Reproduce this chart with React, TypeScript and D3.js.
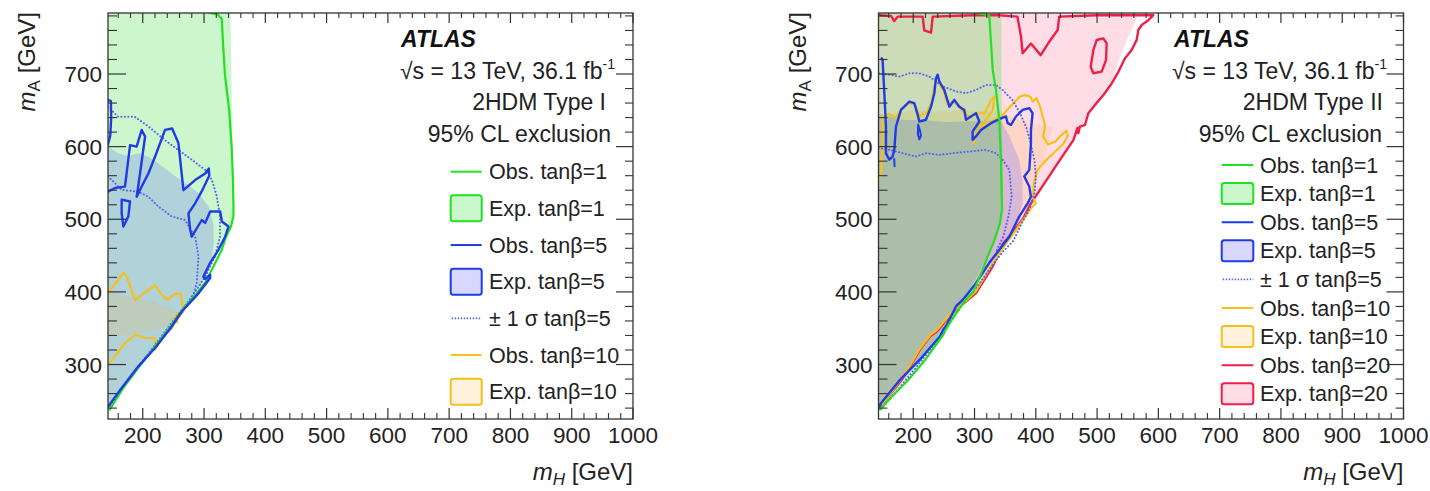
import React from 'react';
import * as d3 from 'd3';

type Pt = [number, number];

// ---------- axes ----------
const xDomain: Pt = [143.3, 1000];
const yDomain: Pt = [225, 784];
const xMajorTicks = [200, 300, 400, 500, 600, 700, 800, 900, 1000];
const yMajorTicks = [300, 400, 500, 600, 700];

// ---------- 2HDM Type I ----------
const t1ExpTb1: Pt[] = [
  [143.3, 784], [343, 784], [344, 740], [345, 680], [346, 620], [348, 560], [349, 510], [346, 493],
  [335, 478], [322, 456], [305, 426], [290, 405], [270, 382], [245, 354], [220, 326], [195, 299],
  [170, 271], [146, 241], [143.3, 237],
];
const t1ObsTb1: Pt[] = [
  [310, 784], [322, 782], [329, 776], [331, 742], [334, 700], [341, 651], [345, 600], [347, 559],
  [348, 520], [348, 504], [344, 490], [336, 476], [329, 458], [316, 436], [302, 413], [286, 396],
  [269, 380], [245, 352], [220, 325], [195, 298], [170, 270], [146, 238],
];
const t1ExpTb5: Pt[] = [
  [143.3, 600], [160, 591], [176, 587], [193, 591], [209, 586], [225, 577], [247, 563], [269, 550],
  [291, 536], [307, 518], [315, 495], [316, 467], [312, 440], [302, 418], [290, 404], [270, 380],
  [245, 352], [220, 324], [195, 297], [170, 269], [146, 240], [143.3, 237],
];
const t1ObsTb5Edge: Pt[] = [[143.3, 664], [148, 663], [148.5, 640], [147, 615], [143.3, 603]];
const t1ObsTb5Main: Pt[] = [
  [143.3, 538], [154.7, 543], [171, 545], [179.3, 602], [190, 600], [198.3, 623], [203.8, 614],
  [195.6, 563], [190.1, 531], [198.3, 545], [209.2, 563], [220, 586], [236.4, 623], [248, 625],
  [258.2, 605], [266.4, 540], [285.5, 554], [301.8, 563], [308, 570], [308.5, 560], [296, 538],
  [285.5, 522], [274.5, 508], [277.3, 486], [280, 476], [296.4, 499], [301.8, 495], [310, 510.7],
  [326.3, 510.7], [329.1, 497], [339.9, 490], [334.5, 476], [323.6, 458], [310, 440], [299, 421],
  [301.8, 417.6], [310, 423.6], [310, 419], [291, 398], [263.7, 373], [247.3, 352.5], [220, 322.7],
  [192.9, 297.5], [165.6, 267.7], [143.8, 242.5],
];
const t1ObsTb5Island: Pt[] = [[165.6, 527], [179.3, 524.5], [176.5, 504], [168.4, 490], [165.6, 508], [165.6, 527]];
const t1SigUpTb5: Pt[] = [
  [143.3, 655], [160, 641], [187, 641], [209, 628], [236, 609], [258, 595.5], [280, 582], [302, 568],
  [313, 554], [321, 531], [326, 504], [326, 476], [318, 449], [302, 421], [288, 403], [270, 382],
  [245, 355], [220, 327], [195, 300], [170, 272], [146, 242],
];
const t1SigDnTb5: Pt[] = [
  [143.3, 559], [165.6, 540.5], [192.9, 538], [209.2, 531], [225.5, 517.6], [247.3, 503.8],
  [269.1, 499], [285.5, 476], [291, 449], [288, 412], [280, 389], [272, 380],
];
const t1ObsTb10: Pt[] = [
  [143.3, 398.4], [168.4, 426], [173.8, 421], [187.4, 389], [220, 409], [232, 395], [240, 389],
  [252, 397], [262, 398], [266.4, 373], [255.5, 362], [247.3, 350], [231, 336.5], [220.1, 320.4],
  [220.1, 336.5], [203.8, 336.5], [187.4, 341], [171.1, 329.6], [143.8, 299.8],
];
const t1ObsTb10Spur: Pt[] = [[249, 362], [258, 364], [255, 371], [256, 358]];
const t1ExpTb10: Pt[] = [
  [143.3, 400], [180, 393], [215, 387], [245, 378], [262, 368], [250, 357], [225, 349], [195, 343],
  [165, 340], [143.3, 340],
];

// ---------- 2HDM Type II ----------
const t2ExpTb1: Pt[] = [
  [143.3, 784], [344, 784], [344, 700], [345, 620], [346, 560], [347, 515], [343, 494], [331, 468],
  [315, 440], [300, 415], [285, 395], [268, 372], [250, 350], [225, 322], [200, 296], [175, 270],
  [150, 243], [143.3, 236],
];
const t2ObsTb1: Pt[] = [
  [299.7, 784.4], [324, 781], [327, 742], [329.6, 706], [335, 678], [340.4, 637], [343.2, 582],
  [344.8, 513], [341.5, 495], [332, 470], [322, 450], [313, 430], [298, 400], [286, 390], [267, 367],
  [253, 348], [249, 341], [220, 307], [190, 277], [165, 256], [145.7, 238],
];
const t2ExpTb20: Pt[] = [
  [143.3, 784], [567, 784], [567, 781], [545, 740], [526.5, 696], [505, 668], [483, 641], [467, 618],
  [450, 595.5], [430, 572], [412, 550], [395, 525], [374, 495], [360, 478], [345, 460], [320, 430],
  [302, 404], [280, 385], [260, 362], [240, 338], [215, 312], [190, 285], [165, 259], [143.3, 238],
];
const t2ExpTb5: Pt[] = [
  [143.3, 646], [160, 642], [180, 637], [220, 636], [260, 634], [300, 635], [343, 636], [357, 614],
  [373, 582], [378.5, 550], [378.5, 522], [368, 495], [355, 475], [340, 455], [320, 430], [300, 406],
  [280, 386], [260, 360], [240, 335], [210, 302], [180, 272], [150, 243], [143.3, 237],
];
const t2ExpTb10: Pt[] = [
  [143.3, 640], [170, 645], [200, 650], [240, 648], [280, 650], [320, 649], [343, 648], [365, 640],
  [396, 632], [428, 627.6], [418, 595.5], [407, 568], [396, 531], [374, 504], [360, 482], [340, 456],
  [310, 420], [280, 388], [250, 352], [220, 318], [190, 287], [160, 255], [143.3, 238],
];
const t2ObsTb20: Pt[] = [
  [143.3, 781], [163.7, 780], [169, 773], [174.6, 779], [215.4, 779], [218, 760], [229, 757],
  [231.7, 779], [297, 781], [340, 781], [370, 779], [376, 751], [378.5, 728.5], [392, 742], [408, 726],
  [422, 744.5], [435.6, 760.6], [438.3, 779], [500, 781], [591.8, 781], [583.6, 774], [572.8, 767.5],
  [567.3, 760.6], [564.6, 747], [556.4, 733], [545.6, 721.6], [534.7, 703], [523.8, 687], [510.2, 671],
  [496.6, 657.5], [485.7, 646], [480.3, 630], [472, 627.6], [469.4, 618.5], [468, 626], [461.3, 609],
  [444.9, 588.6], [428.6, 568], [412.3, 547.4], [401.4, 533.6], [390.6, 520], [379.7, 501.5],
  [363.4, 483], [347, 467], [329.6, 435], [302.4, 398.4], [285, 386], [265.4, 373], [254.6, 361.7],
  [238.3, 345.6], [227.3, 338.8], [211, 320.5], [194.7, 297.5], [181.2, 279.2], [165, 262], [151, 247],
  [143.3, 240],
];
const t2ObsTb20Island: Pt[] = [
  [499.3, 746.8], [510.2, 749.1], [515.6, 742.3], [514.6, 719.3], [507.5, 703.3], [493.9, 701],
  [489.5, 710], [493.9, 733.1], [499.3, 746.8],
];
const t2ObsTb10: Pt[] = [
  [143.3, 556], [147.4, 563], [150, 600], [150, 641], [160, 645], [172, 640], [180, 652], [193, 660],
  [203, 657], [210, 642], [222, 647], [230, 662], [236, 690], [241, 688], [250, 676], [256, 658],
  [265, 663], [276, 654], [285, 645], [293, 641], [302, 646], [316, 646], [327, 664], [332, 669],
  [330, 651], [319, 637], [310, 630], [300, 628], [297, 617], [299, 605], [302, 618], [312, 627],
  [326, 634], [343, 641], [358, 655], [374, 669], [382, 671], [391, 669], [395, 662], [401, 667],
  [407, 655], [411, 642], [415, 630], [412, 614], [420, 603], [432, 607], [443, 617], [450, 622],
  [452, 615], [445, 604], [430, 592], [415, 580], [402, 567], [397, 550], [395, 530], [400, 522],
  [392, 515], [380, 500], [365, 482], [350, 465], [330, 440], [310, 412], [302, 401], [285, 387],
  [265, 374], [250, 359], [238, 347], [227, 340], [211, 322], [195, 299], [181, 281], [165, 263],
  [150, 246],
];
const t2ObsTb5: Pt[] = [
  [148.5, 721.7], [150, 719], [152.8, 674], [155.5, 628], [155.5, 591], [161, 582], [166.4, 586.4],
  [169.1, 595.6], [171.8, 627.7], [180, 650.6], [193.6, 662], [201.7, 660], [207.2, 644], [209.9, 634.6],
  [220.8, 637], [229, 655], [234.4, 673.6], [237.1, 694], [239.8, 699], [242.5, 690], [250.7, 678],
  [258.9, 655], [267, 664.4], [275.2, 655], [283.3, 650.6], [286.1, 637], [302.4, 646], [307.8, 634.6],
  [302.4, 627.7], [296.9, 621], [296.9, 609.4], [302.4, 614], [310.5, 623], [326.8, 632.3],
  [343.2, 639], [351.3, 641.5], [354.1, 632.3], [359.5, 630], [367.6, 641.5], [378.5, 650.6],
  [389.4, 653], [394.8, 646], [392.1, 623], [392.1, 605], [389.4, 568], [381.2, 559], [389.4, 545],
  [392.1, 531], [386.7, 522], [373.1, 504], [356.8, 476], [340.4, 458], [324.1, 440], [302.4, 412],
  [280.6, 389], [269.7, 380], [255, 355], [249, 348], [243.7, 339], [211, 307], [178.4, 279],
  [145.7, 245], [143.3, 242],
];
const t2ObsTb5Loop: Pt[] = [[208, 630], [211, 622], [212.5, 615], [210, 610], [207.5, 617], [208, 630]];
const t2ObsTb5Tick: Pt[] = [[169, 583], [169.5, 573]];
const t2SigUpTb5: Pt[] = [
  [143.6, 701], [161, 699], [177.3, 696.5], [193.6, 701], [209.9, 701], [226.2, 696.5], [248, 683],
  [269.7, 676], [286.1, 673.6], [302.4, 678], [318.7, 685], [335, 685], [345.9, 678], [362, 664],
  [375, 645], [385, 625], [393, 600], [398, 580], [400, 558], [398, 536], [390, 515], [378, 496],
  [363, 470], [345.9, 455], [325, 432], [305, 408], [285, 388], [265, 364], [245, 340], [220, 312],
  [195, 286], [170, 260], [147, 238],
];
const t2SigDnTb5: Pt[] = [
  [143.3, 598], [161, 595.6], [182.7, 591], [204.5, 586.4], [220.8, 591], [242.5, 588.7], [264.3, 591],
  [291.5, 593.3], [318.7, 595.6], [335, 591], [345.9, 582], [356.8, 568], [360.6, 531], [355.2, 504],
  [347, 476], [335, 455],
];

// ---------- styling ----------
const FONT = "'Liberation Sans', Arial, Helvetica, sans-serif";
const COL = {
  green: '#22e022',
  blue: '#1e3ce6',
  dotted: '#4f63f2',
  yellow: '#f6c01c',
  red: '#ef1f48',
};
const FILL = {
  green: 'rgba(0,215,0,0.2)',
  blue: 'rgba(100,100,255,0.25)',
  yellow: 'rgba(255,175,40,0.16)',
  red: 'rgba(255,30,90,0.15)',
};

const Y0 = 13;
const Y1 = 419;

type Shape =
  | { kind: 'fill'; data: Pt[]; fill: string }
  | { kind: 'line'; data: Pt[]; stroke: string; width?: number; dotted?: boolean };

type LegendRow = { kind: 'line' | 'box' | 'dots'; color: string; fill?: string; label: string };

type PanelProps = {
  id: string;
  x0: number;
  x1: number;
  shapes: Shape[];
  header: { atlasX: number; sqrtX: number; typeEnd: number; clEnd: number; typeLabel: string };
  legend: { y0: number; dy: number; symX: number; symW: number; boxH: number; textX: number; rows: LegendRow[] };
};

function Panel({ id, x0, x1, shapes, header, legend }: PanelProps) {
  const x = d3.scaleLinear().domain(xDomain).range([x0, x1]);
  const y = d3.scaleLinear().domain(yDomain).range([Y1, Y0]);
  const line = d3.line<Pt>().x((d) => x(d[0])).y((d) => y(d[1]));
  const xMinor = d3.range(160, 1001, 20).filter((v) => v % 100 !== 0);
  const yMinor = d3.range(240, 781, 20).filter((v) => v % 100 !== 0);
  const tick = '#333';

  return (
    <g fontFamily={FONT}>
      <defs>
        <clipPath id={id}>
          <rect x={x0} y={Y0} width={x1 - x0} height={Y1 - Y0} />
        </clipPath>
      </defs>
      <g clipPath={`url(#${id})`}>
        {shapes.filter((s) => s.kind === 'fill').map((s, i) => (
          <path key={'f' + i} d={line(s.data) + 'Z'} fill={(s as any).fill} stroke="none" />
        ))}
        {shapes.filter((s) => s.kind === 'line').map((s: any, i) => (
          <path
            key={'l' + i}
            d={line(s.data) || ''}
            fill="none"
            stroke={s.stroke}
            strokeWidth={s.width ?? 2.4}
            strokeLinejoin="round"
            strokeLinecap="round"
            strokeDasharray={s.dotted ? '0.1 3.4' : undefined}
          />
        ))}
      </g>

      {/* frame */}
      <rect x={x0} y={Y0} width={x1 - x0} height={Y1 - Y0} fill="none" stroke="#333" strokeWidth={1.3} />

      {/* x ticks, bottom and top */}
      {xMajorTicks.map((v) => (
        <g key={'xm' + v}>
          <line x1={x(v)} x2={x(v)} y1={Y1} y2={Y1 - 11} stroke={tick} strokeWidth={1.2} />
          <line x1={x(v)} x2={x(v)} y1={Y0} y2={Y0 + 10} stroke={tick} strokeWidth={1.2} />
          <text x={x(v)} y={442.5} textAnchor="middle" fontSize={22.5} fill="#222">{v}</text>
        </g>
      ))}
      {xMinor.map((v) => (
        <g key={'xn' + v}>
          <line x1={x(v)} x2={x(v)} y1={Y1} y2={Y1 - 6} stroke={tick} strokeWidth={1.1} />
          <line x1={x(v)} x2={x(v)} y1={Y0} y2={Y0 + 5} stroke={tick} strokeWidth={1.1} />
        </g>
      ))}

      {/* y ticks, left and right */}
      {yMajorTicks.map((v) => (
        <g key={'ym' + v}>
          <line x1={x0} x2={x0 + 18} y1={y(v)} y2={y(v)} stroke={tick} strokeWidth={1.2} />
          <line x1={x1} x2={x1 - 17} y1={y(v)} y2={y(v)} stroke={tick} strokeWidth={1.2} />
          <text x={x0 - 6} y={y(v) + 8} textAnchor="end" fontSize={22.5} fill="#222">{v}</text>
        </g>
      ))}
      {yMinor.map((v) => (
        <g key={'yn' + v}>
          <line x1={x0} x2={x0 + 9} y1={y(v)} y2={y(v)} stroke={tick} strokeWidth={1.1} />
          <line x1={x1} x2={x1 - 8} y1={y(v)} y2={y(v)} stroke={tick} strokeWidth={1.1} />
        </g>
      ))}

      {/* axis titles */}
      <text x={x1} y={480} textAnchor="end" fontSize={24} fill="#222">
        <tspan fontStyle="italic">m</tspan>
        <tspan fontStyle="italic" fontSize={17} dy={5}>H</tspan>
        <tspan dy={-5}> [GeV]</tspan>
      </text>
      <text transform={`translate(${x0 - 73},12) rotate(-90)`} textAnchor="end" fontSize={24} fill="#222">
        <tspan fontStyle="italic">m</tspan>
        <tspan fontSize={17} dy={5}>A</tspan>
        <tspan dy={-5}> [GeV]</tspan>
      </text>

      {/* header */}
      <text x={header.atlasX} y={47} fontSize={23} fontWeight="bold" fontStyle="italic" fill="#111">ATLAS</text>
      <text x={header.sqrtX} y={79} fontSize={23} fill="#222">
        √s = 13 TeV, 36.1 fb<tspan fontSize={14} dy={-10}>-1</tspan>
      </text>
      <text x={header.typeEnd} y={110} textAnchor="end" fontSize={23} fill="#222">{header.typeLabel}</text>
      <text x={header.clEnd} y={141.7} textAnchor="end" fontSize={23} fill="#222">95% CL exclusion</text>

      {/* legend */}
      {legend.rows.map((r, i) => {
        const cy = legend.y0 + i * legend.dy;
        return (
          <g key={'lg' + i}>
            {r.kind === 'line' && (
              <line x1={legend.symX} x2={legend.symX + legend.symW} y1={cy} y2={cy} stroke={r.color} strokeWidth={2} />
            )}
            {r.kind === 'dots' && (
              <line
                x1={legend.symX + 1}
                x2={legend.symX + legend.symW}
                y1={cy}
                y2={cy}
                stroke={r.color}
                strokeWidth={1.6}
                strokeDasharray="1.4 1.6"
              />
            )}
            {r.kind === 'box' && (
              <rect
                x={legend.symX}
                y={cy - legend.boxH / 2}
                width={legend.symW}
                height={legend.boxH}
                rx={2.5}
                fill={r.fill}
                stroke={r.color}
                strokeWidth={2}
              />
            )}
            <text x={legend.textX} y={cy + 7.6} fontSize={21.5} fill="#222">{r.label}</text>
          </g>
        );
      })}
    </g>
  );
}

const legendType1: LegendRow[] = [
  { kind: 'line', color: COL.green, label: 'Obs. tanβ=1' },
  { kind: 'box', color: COL.green, fill: FILL.green, label: 'Exp. tanβ=1' },
  { kind: 'line', color: COL.blue, label: 'Obs. tanβ=5' },
  { kind: 'box', color: COL.blue, fill: FILL.blue, label: 'Exp. tanβ=5' },
  { kind: 'dots', color: COL.dotted, label: '± 1 σ tanβ=5' },
  { kind: 'line', color: COL.yellow, label: 'Obs. tanβ=10' },
  { kind: 'box', color: COL.yellow, fill: FILL.yellow, label: 'Exp. tanβ=10' },
];
const legendType2: LegendRow[] = [
  ...legendType1,
  { kind: 'line', color: COL.red, label: 'Obs. tanβ=20' },
  { kind: 'box', color: COL.red, fill: FILL.red, label: 'Exp. tanβ=20' },
];

const shapesType1: Shape[] = [
  { kind: 'fill', data: t1ExpTb1, fill: FILL.green },
  { kind: 'fill', data: t1ExpTb5, fill: FILL.blue },
  { kind: 'fill', data: t1ExpTb10, fill: FILL.yellow },
  { kind: 'line', data: t1ObsTb10, stroke: COL.yellow, width: 2.2 },
  { kind: 'line', data: t1ObsTb10Spur, stroke: COL.yellow, width: 2.2 },
  { kind: 'line', data: t1SigUpTb5, stroke: COL.dotted, width: 2, dotted: true },
  { kind: 'line', data: t1SigDnTb5, stroke: COL.dotted, width: 2, dotted: true },
  { kind: 'line', data: t1ObsTb1, stroke: COL.green, width: 2.2 },
  { kind: 'line', data: t1ObsTb5Edge, stroke: COL.blue },
  { kind: 'line', data: t1ObsTb5Main, stroke: COL.blue },
  { kind: 'line', data: t1ObsTb5Island, stroke: COL.blue },
];

// Type II fills: green is laid last so the overlap keeps a green tint
const shapesType2: Shape[] = [
  { kind: 'fill', data: t2ExpTb20, fill: FILL.red },
  { kind: 'fill', data: t2ExpTb10, fill: FILL.yellow },
  { kind: 'fill', data: t2ExpTb5, fill: FILL.blue },
  { kind: 'fill', data: t2ExpTb1, fill: FILL.green },
  { kind: 'line', data: t2ObsTb20, stroke: COL.red },
  { kind: 'line', data: t2ObsTb20Island, stroke: COL.red },
  { kind: 'line', data: t2ObsTb10, stroke: COL.yellow, width: 2.2 },
  { kind: 'line', data: t2SigUpTb5, stroke: COL.dotted, width: 2, dotted: true },
  { kind: 'line', data: t2SigDnTb5, stroke: COL.dotted, width: 2, dotted: true },
  { kind: 'line', data: t2ObsTb5, stroke: COL.blue },
  { kind: 'line', data: t2ObsTb5Loop, stroke: COL.blue, width: 2 },
  { kind: 'line', data: t2ObsTb5Tick, stroke: COL.blue, width: 2 },
  { kind: 'line', data: t2ObsTb1, stroke: COL.green, width: 2.2 },
];

export default function App() {
  return (
    <svg
      width={1430}
      height={491}
      viewBox="0 0 1430 491"
      style={{ position: 'absolute', left: 0, top: 0, background: '#fff' }}
    >
      <rect width={1430} height={491} fill="#fff" />
      <Panel
        id="clip-type1"
        x0={108}
        x1={633}
        shapes={shapesType1}
        header={{ atlasX: 401, sqrtX: 400, typeEnd: 606, clEnd: 611, typeLabel: '2HDM Type I' }}
        legend={{ y0: 171.7, dy: 36.67, symX: 450.7, symW: 31, boxH: 26, textX: 489, rows: legendType1 }}
      />
      <Panel
        id="clip-type2"
        x0={878.5}
        x1={1403.5}
        shapes={shapesType2}
        header={{ atlasX: 1174, sqrtX: 1172, typeEnd: 1383, clEnd: 1382, typeLabel: '2HDM Type II' }}
        legend={{ y0: 165, dy: 28.6, symX: 1221.7, symW: 31.6, boxH: 21, textX: 1260, rows: legendType2 }}
      />
    </svg>
  );
}
